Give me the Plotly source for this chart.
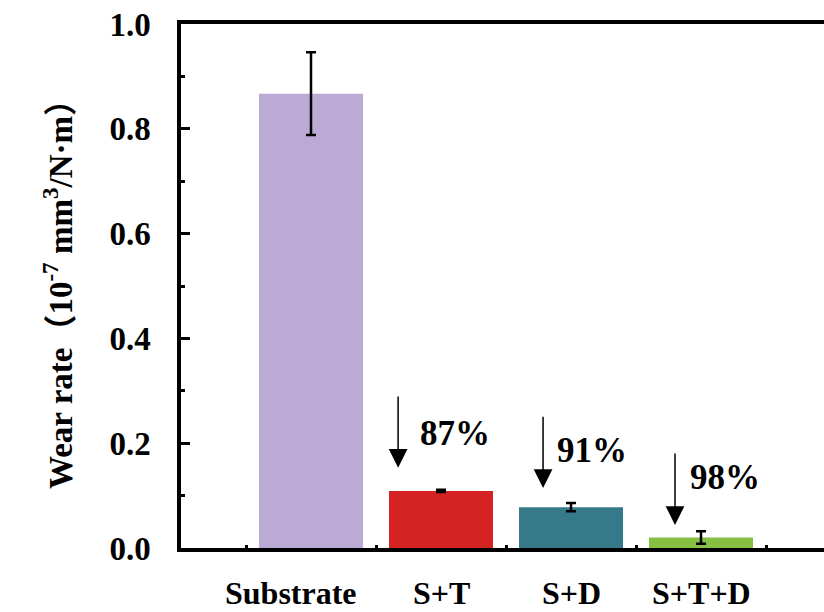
import plotly.graph_objects as go

categories = ["Substrate", "S+T", "S+D", "S+T+D"]
wear_rate = [0.867, 0.109, 0.078, 0.020]
wear_err = [0.079, 0.002, 0.008, 0.012]
bar_colors = ["#BBAAD6", "#D42222", "#367A8A", "#86C043"]
reductions = ["87%", "91%", "98%"]

FONT = "Liberation Serif, Times New Roman, Noto Sans CJK SC"

fig = go.Figure()
fig.add_trace(go.Bar(
    x=categories, y=wear_rate,
    marker=dict(color=bar_colors, line=dict(width=0)),
    width=0.8,
    error_y=dict(type="data", array=wear_err, visible=True,
                 color="black", thickness=2.5, width=5),
    showlegend=False,
))

# arrows and percentage labels (style positions relative to bars)
arrow_dx = [-0.33, -0.215, -0.2]
arrow_tip = [0.153, 0.1145, 0.044]
arrow_len = 0.139
text_dx = [0.108, 0.16, 0.185]
text_y = [0.219, 0.187, 0.134]
for k, lab in enumerate(reductions):
    i = k + 1
    fig.add_annotation(
        x=i + arrow_dx[k], y=arrow_tip[k],
        ax=i + arrow_dx[k], ay=arrow_tip[k] + arrow_len,
        xref="x", yref="y", axref="x", ayref="y",
        showarrow=True, arrowhead=2, arrowsize=2.5, arrowwidth=1.5,
        arrowcolor="black", text="",
    )
    fig.add_annotation(
        x=i + text_dx[k], y=text_y[k], xref="x", yref="y",
        text=lab, showarrow=False,
        font=dict(family=FONT, size=35, color="black", weight="bold"),
    )

# category labels under the axis
label_shift = [-20, 0, 0, 0]
for i, c in enumerate(categories):
    fig.add_annotation(
        x=c, y=0, xref="x", yref="paper", yanchor="top",
        yshift=-25, xshift=label_shift[i], text=c, showarrow=False,
        font=dict(family=FONT, size=32, color="black", weight="bold"),
    )

fig.update_layout(
    width=824, height=612,
    margin=dict(l=181, r=0, t=24, b=64),
    paper_bgcolor="white", plot_bgcolor="white",
    font=dict(family=FONT, color="black"),
)
fig.update_xaxes(
    type="category", range=[-1, 3.946],
    showticklabels=False,
    showline=True, linecolor="black", linewidth=3.5, mirror=True,
    ticks="inside", tickson="boundaries", ticklen=3, tickwidth=3, tickcolor="black",
    showgrid=False, zeroline=False,
)
fig.update_yaxes(
    range=[0, 1.0], dtick=0.2, tickformat=".1f",
    tickfont=dict(family=FONT, size=33, weight="bold"),
    showline=True, linecolor="black", linewidth=3.5,
    ticks="inside", ticklen=9, tickwidth=3, tickcolor="black",
    minor=dict(dtick=0.1, ticks="inside", ticklen=4, tickwidth=3, tickcolor="black"),
    showgrid=False, zeroline=False, ticklabelstandoff=20,
    title=dict(text="Wear rate（10<sup>-7</sup> mm<sup>3</sup>/N·m）",
               font=dict(family=FONT, size=33, weight="bold"), standoff=28),
)

fig.write_html("out.html")
